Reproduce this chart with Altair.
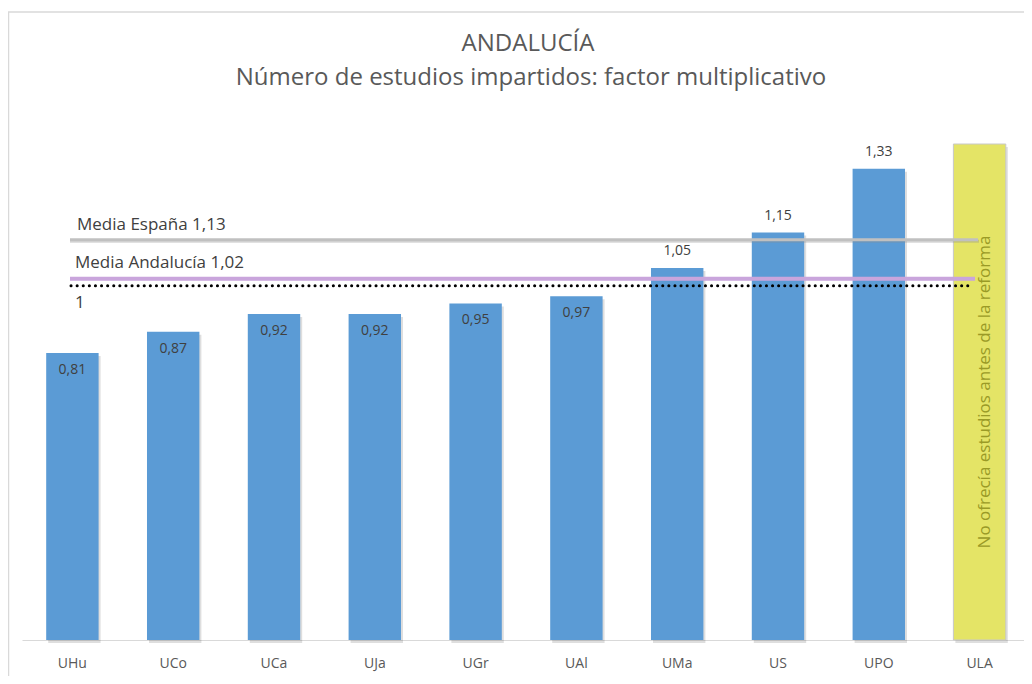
import altair as alt
import pandas as pd

# ---- data ----
categories = ["UHu", "UCo", "UCa", "UJa", "UGr", "UAl", "UMa", "US", "UPO", "ULA"]
values = [0.81, 0.87, 0.92, 0.92, 0.95, 0.97, 1.05, 1.15, 1.33]
ula_category = "ULA"
ula_extent = 1.4
ula_note = "No ofrecía estudios antes de la reforma"
ref_names = ["Media España 1,13", "Media Andalucía 1,02", "1"]
ref_values = [1.13, 1.02, 1.0]
title_text = "ANDALUCÍA"
subtitle_text = "Número de estudios impartidos: factor multiplicativo"

# ---- layout / style ----
W, H = 1000, 496
XRANGE = 1008
FONT = "Open Sans"
TXT = "#595959"

bars_df = pd.DataFrame({"cat": categories[:len(values)], "val": values})
bars_df["label"] = bars_df["val"].map(lambda v: f"{v:.2f}".replace(".", ","))
ula_df = pd.DataFrame({"cat": [ula_category], "val": [ula_extent],
                       "mid": [ula_extent / 2], "note": [ula_note]})

xs = alt.Scale(domain=categories, paddingInner=0.48, paddingOuter=0.24,
               range=[0, XRANGE])
ys = alt.Scale(domain=[0, ula_extent], nice=False, zero=True)
xaxis = alt.Axis(title=None, labelAngle=0, ticks=False, grid=False,
                 domainColor="#d9d9d9", domainWidth=1, labelColor=TXT,
                 labelFontSize=14, labelFont=FONT, labelPadding=16)

X = alt.X("cat:N", scale=xs, axis=xaxis, sort=categories)
Y = alt.Y("val:Q", scale=ys, axis=None)

one = pd.DataFrame({"a": [0]})

border = alt.Chart(one).mark_rect(fill="white", fillOpacity=0, stroke="#d9d9d9",
                                   strokeWidth=1.5).encode(
    x=alt.value(-13.5), x2=alt.value(1040), y=alt.value(-132), y2=alt.value(600))

shadow = alt.Chart(bars_df).mark_bar(color="black", opacity=0.13,
                                     xOffset=2, yOffset=3).encode(x=X, y=Y)
bars = alt.Chart(bars_df).mark_bar(color="#5b9bd5").encode(x=X, y=Y)

ula_shadow = alt.Chart(ula_df).mark_bar(color="black", opacity=0.13,
                                        xOffset=2, yOffset=3).encode(x=X, y=Y)
ula_bar = alt.Chart(ula_df).mark_bar(fill="#e4e466", stroke="#c8c8c8",
                                     strokeWidth=1).encode(x=X, y=Y)

lab_style = dict(font=FONT, fontSize=14, color="#404040", align="center",
                 baseline="middle")
labels_in = alt.Chart(bars_df).transform_filter("datum.val < 1").mark_text(
    dy=17, **lab_style).encode(x=X, y=Y, text="label:N")
labels_out = alt.Chart(bars_df).transform_filter("datum.val >= 1").mark_text(
    dy=-17, **lab_style).encode(x=X, y=Y, text="label:N")

def ref_df(i):
    return pd.DataFrame({"v": [ref_values[i]], "name": [ref_names[i]]})

RY = alt.Y("v:Q", scale=ys, axis=None)

esp_shadow = alt.Chart(ref_df(0)).mark_rule(color="#8c8c8c", opacity=0.35,
                                            strokeWidth=3, yOffset=1.5).encode(
    x=alt.value(48), x2=alt.value(957), y=RY)
esp = alt.Chart(ref_df(0)).mark_rule(color="#c0c0c0", strokeWidth=3).encode(
    x=alt.value(48), x2=alt.value(956), y=RY)
and_line = alt.Chart(ref_df(1)).mark_rule(color="#c9a5dc", strokeWidth=4).encode(
    x=alt.value(48), x2=alt.value(953), y=RY)
one_line = alt.Chart(ref_df(2)).mark_rule(color="black", strokeWidth=3,
                                          strokeDash=[0.1, 6], strokeCap="round").encode(
    x=alt.value(49), x2=alt.value(950), y=RY)

ref_txt = dict(font=FONT, fontSize=17, color="#404040", align="left", baseline="middle")
esp_lab = alt.Chart(ref_df(0)).mark_text(dy=-15, **ref_txt).encode(
    x=alt.value(55), y=RY, text="name:N")
and_lab = alt.Chart(ref_df(1)).mark_text(dy=-16, **ref_txt).encode(
    x=alt.value(53), y=RY, text="name:N")
one_lab = alt.Chart(ref_df(2)).mark_text(dy=17, **ref_txt).encode(
    x=alt.value(53), y=RY, text="name:N")

ula_text = alt.Chart(ula_df).mark_text(angle=270, align="center", baseline="middle",
                                       dy=5, font=FONT, fontSize=17,
                                       color="#9a9a26").encode(
    x=X, y=alt.Y("mid:Q", scale=ys, axis=None), text="note:N")

t_df = pd.DataFrame({"t": [title_text]})
s_df = pd.DataFrame({"t": [subtitle_text]})
title = alt.Chart(t_df).mark_text(font=FONT, fontSize=24, color=TXT, align="center",
                                  baseline="alphabetic").encode(
    x=alt.value(506), y=alt.value(-93), text="t:N")
subtitle = alt.Chart(s_df).mark_text(font=FONT, fontSize=24, color=TXT, align="center",
                                     baseline="alphabetic").encode(
    x=alt.value(509), y=alt.value(-59), text="t:N")

chart = alt.layer(
    border, shadow, bars, ula_shadow, ula_bar, labels_in, labels_out,
    esp_shadow, esp, and_line, one_line, esp_lab, and_lab, one_lab,
    ula_text, title, subtitle,
).properties(
    width=W, height=H,
    padding={"left": 14, "top": 136, "right": 2, "bottom": 36},
    autosize=alt.AutoSizeParams(type="none"),
    background="white",
).configure_view(stroke=None)

chart.save("out.html", embed_options={"renderer": "svg", "actions": False})
